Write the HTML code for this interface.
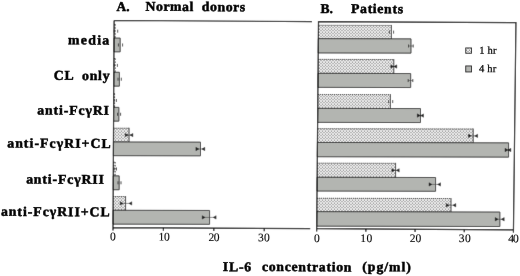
<!DOCTYPE html>
<html><head><meta charset="utf-8"><style>
html,body{margin:0;padding:0;background:#fff;width:520px;height:276px;overflow:hidden}
svg{display:block}
text{font-family:"Liberation Serif",serif;fill:#000;white-space:pre}
.tk{font-size:11.5px;stroke:#000;stroke-width:0.12px}
.lg{font-size:10.5px;stroke:#000;stroke-width:0.25px}
.lb{font-size:13.5px;font-weight:bold;stroke:#000;stroke-width:0.5px}
.tt{font-size:13.5px;font-weight:bold;stroke:#000;stroke-width:0.5px}
</style></head><body>
<svg width="520" height="276" viewBox="0 0 520 276">
<filter id="bl" x="0" y="0" width="1" height="1"><feConvolveMatrix order="3" kernelMatrix="0.0052 0.0619 0.0052 0.0619 0.7314 0.0619 0.0052 0.0619 0.0052" edgeMode="duplicate"/></filter>
<filter id="bt" x="0" y="0" width="520" height="276" filterUnits="userSpaceOnUse"><feConvolveMatrix order="3" kernelMatrix="0.0003 0.0158 0.0003 0.0158 0.9358 0.0158 0.0003 0.0158 0.0003" edgeMode="none"/></filter>
<g filter="url(#bl)"><rect width="520" height="276" fill="#fff"/>
<defs><pattern id="dots" width="2.1213" height="2.1213" patternUnits="userSpaceOnUse" patternTransform="rotate(45)"><rect width="2.1213" height="2.1213" fill="#fcfcfc"/><rect width="0.95" height="0.95" fill="#222"/></pattern></defs>
<path d="M114.08 24.3L115.2 24.3L115.2 38.05L114.01 38.05Z" fill="url(#dots)"/>
<path d="M114.08 24.3L115.2 24.3M114.01 38.05L115.2 38.05" fill="none" stroke="#2a2a2a" stroke-width="0.9" stroke-dasharray="1.2 0.8"/>
<path d="M115.2 24.3L115.2 38.05" fill="none" stroke="#2a2a2a" stroke-width="1" stroke-dasharray="1.3 1.7"/>
<path d="M114.2 29.67L114.2 32.67M117.7 29.68L117.7 32.68" stroke="#333" stroke-width="0.9" fill="none"/>
<path d="M114.01 38.05L120.2 38.06L120.2 51.86L113.94 51.85Z" fill="#b3b5b1" stroke="#2a2a2a" stroke-width="0.9"/>
<path d="M118.4 43.46L118.4 46.46M122.6 43.47L122.6 46.47" stroke="#333" stroke-width="0.9" fill="none"/>
<path d="M113.9 58.5L115.2 58.5L115.2 72.25L113.83 72.25Z" fill="url(#dots)"/>
<path d="M113.9 58.5L115.2 58.5M113.83 72.25L115.2 72.25" fill="none" stroke="#2a2a2a" stroke-width="0.9" stroke-dasharray="1.2 0.8"/>
<path d="M115.2 58.5L115.2 72.25" fill="none" stroke="#2a2a2a" stroke-width="1" stroke-dasharray="1.3 1.7"/>
<path d="M114.2 63.87L114.2 66.87M117.4 63.88L117.4 66.88" stroke="#333" stroke-width="0.9" fill="none"/>
<path d="M113.83 72.25L119.4 72.26L119.4 86.16L113.76 86.15Z" fill="#b3b5b1" stroke="#2a2a2a" stroke-width="0.9"/>
<path d="M118 77.71L118 80.71M121.3 77.71L121.3 80.71" stroke="#333" stroke-width="0.9" fill="none"/>
<path d="M113.72 93.6L114.6 93.6L114.6 107.35L113.64 107.35Z" fill="url(#dots)"/>
<path d="M113.72 93.6L114.6 93.6M113.64 107.35L114.6 107.35" fill="none" stroke="#2a2a2a" stroke-width="0.9" stroke-dasharray="1.2 0.8"/>
<path d="M114.6 93.6L114.6 107.35" fill="none" stroke="#2a2a2a" stroke-width="1" stroke-dasharray="1.3 1.7"/>
<path d="M114 98.97L114 101.97M116.4 98.98L116.4 101.98" stroke="#333" stroke-width="0.9" fill="none"/>
<path d="M113.64 107.35L118.9 107.36L118.9 121.16L113.57 121.15Z" fill="#b3b5b1" stroke="#2a2a2a" stroke-width="0.9"/>
<path d="M117.5 112.76L117.5 115.76M120.6 112.76L120.6 115.76" stroke="#333" stroke-width="0.9" fill="none"/>
<path d="M113.53 128.2L129.05 128.23L129.05 141.98L113.46 141.95Z" fill="url(#dots)"/>
<path d="M113.53 128.2L129.05 128.23M113.46 141.95L129.05 141.98" fill="none" stroke="#2a2a2a" stroke-width="0.9" stroke-dasharray="1.2 0.8"/>
<path d="M129.05 127.78L129.05 142.43" fill="none" stroke="#2a2a2a" stroke-width="0.9"/>
<path d="M125.5 135.1L132.6 135.11" stroke="#444" stroke-width="0.6" fill="none"/>
<path d="M125.2 133.4L125.2 136.8L128.1 135.1ZM132.9 133.41L132.9 136.81L130 135.1Z" fill="#111" stroke="#111" stroke-width="0.4" stroke-linejoin="round"/>
<path d="M113.46 141.95L200.5 142.12L200.5 155.87L113.39 155.7Z" fill="#b3b5b1" stroke="#2a2a2a" stroke-width="0.9"/>
<path d="M196.2 148.99L204.5 149" stroke="#444" stroke-width="0.6" fill="none"/>
<path d="M195.9 147.29L195.9 150.69L198.8 148.99ZM204.8 147.3L204.8 150.7L201.9 149Z" fill="#111" stroke="#111" stroke-width="0.4" stroke-linejoin="round"/>
<path d="M113.35 162.1L115.2 162.1L115.2 175.85L113.28 175.85Z" fill="url(#dots)"/>
<path d="M113.35 162.1L115.2 162.1M113.28 175.85L115.2 175.85" fill="none" stroke="#2a2a2a" stroke-width="0.9" stroke-dasharray="1.2 0.8"/>
<path d="M115.2 162.1L115.2 175.85" fill="none" stroke="#2a2a2a" stroke-width="1" stroke-dasharray="1.3 1.7"/>
<path d="M114.2 167.47L114.2 170.47M116.5 167.48L116.5 170.48" stroke="#333" stroke-width="0.9" fill="none"/>
<path d="M113.28 175.85L119.2 175.86L119.2 189.76L113.21 189.75Z" fill="#b3b5b1" stroke="#2a2a2a" stroke-width="0.9"/>
<path d="M118 181.31L118 184.31M121 181.31L121 184.31" stroke="#333" stroke-width="0.9" fill="none"/>
<path d="M113.17 196.5L125.6 196.52L125.6 210.27L113.1 210.25Z" fill="url(#dots)"/>
<path d="M113.17 196.5L125.6 196.52M113.1 210.25L125.6 210.27" fill="none" stroke="#2a2a2a" stroke-width="0.9" stroke-dasharray="1.2 0.8"/>
<path d="M125.6 196.07L125.6 210.72" fill="none" stroke="#2a2a2a" stroke-width="0.9"/>
<path d="M120.5 203.39L131.5 203.41" stroke="#444" stroke-width="0.6" fill="none"/>
<path d="M120.2 201.69L120.2 205.09L123.1 203.39ZM131.8 201.71L131.8 205.11L128.9 203.4Z" fill="#111" stroke="#111" stroke-width="0.4" stroke-linejoin="round"/>
<path d="M113.1 210.25L209.6 210.44L209.6 224.34L113.02 224.15Z" fill="#b3b5b1" stroke="#2a2a2a" stroke-width="0.9"/>
<path d="M202.5 217.38L215.8 217.4" stroke="#444" stroke-width="0.6" fill="none"/>
<path d="M202.2 215.67L202.2 219.07L205.1 217.38ZM216.1 215.7L216.1 219.1L213.2 217.4Z" fill="#111" stroke="#111" stroke-width="0.4" stroke-linejoin="round"/>
<path d="M318.47 25.27L391.4 25.41L391.4 38.81L318.35 38.67Z" fill="url(#dots)"/>
<path d="M318.47 25.27L391.4 25.41M318.35 38.67L391.4 38.81" fill="none" stroke="#2a2a2a" stroke-width="0.9" stroke-dasharray="1.2 0.8"/>
<path d="M391.4 24.96L391.4 39.26" fill="none" stroke="#2a2a2a" stroke-width="0.9"/>
<path d="M389.4 30.61L389.4 33.61M393.6 30.62L393.6 33.62" stroke="#333" stroke-width="0.9" fill="none"/>
<path d="M318.35 38.67L411 38.85L411 53.15L318.23 52.97Z" fill="#b3b5b1" stroke="#2a2a2a" stroke-width="0.9"/>
<path d="M408.5 46L413.2 46.01" stroke="#444" stroke-width="0.6" fill="none"/>
<path d="M408.5 44.5L408.5 47.5M413.2 44.51L413.2 47.51" stroke="#333" stroke-width="0.9" fill="none"/>
<path d="M318.17 59.37L393.8 59.52L393.8 73.52L318.05 73.37Z" fill="url(#dots)"/>
<path d="M318.17 59.37L393.8 59.52M318.05 73.37L393.8 73.52" fill="none" stroke="#2a2a2a" stroke-width="0.9" stroke-dasharray="1.2 0.8"/>
<path d="M393.8 59.07L393.8 73.97" fill="none" stroke="#2a2a2a" stroke-width="0.9"/>
<path d="M391.1 66.51L396.5 66.53" stroke="#444" stroke-width="0.6" fill="none"/>
<path d="M390.8 64.81L390.8 68.21L393.7 66.52ZM396.8 64.83L396.8 68.23L393.9 66.52Z" fill="#111" stroke="#111" stroke-width="0.4" stroke-linejoin="round"/>
<path d="M318.05 73.37L410.7 73.55L410.7 87.55L317.93 87.37Z" fill="#b3b5b1" stroke="#2a2a2a" stroke-width="0.9"/>
<path d="M408.2 80.55L412.8 80.56" stroke="#444" stroke-width="0.6" fill="none"/>
<path d="M408.2 79.05L408.2 82.05M412.8 79.06L412.8 82.06" stroke="#333" stroke-width="0.9" fill="none"/>
<path d="M317.87 94.47L390.4 94.61L390.4 108.51L317.74 108.37Z" fill="url(#dots)"/>
<path d="M317.87 94.47L390.4 94.61M317.74 108.37L390.4 108.51" fill="none" stroke="#2a2a2a" stroke-width="0.9" stroke-dasharray="1.2 0.8"/>
<path d="M390.4 94.16L390.4 108.96" fill="none" stroke="#2a2a2a" stroke-width="0.9"/>
<path d="M388.6 100.06L388.6 103.06M392.7 100.07L392.7 103.07" stroke="#333" stroke-width="0.9" fill="none"/>
<path d="M317.74 108.37L420.5 108.57L420.5 122.57L317.62 122.37Z" fill="#b3b5b1" stroke="#2a2a2a" stroke-width="0.9"/>
<path d="M417.6 115.57L423.2 115.58" stroke="#444" stroke-width="0.6" fill="none"/>
<path d="M417.3 113.87L417.3 117.27L420.2 115.57ZM423.5 113.88L423.5 117.28L420.6 115.57Z" fill="#111" stroke="#111" stroke-width="0.4" stroke-linejoin="round"/>
<path d="M317.57 128.67L473.2 128.98L473.2 142.78L317.45 142.47Z" fill="url(#dots)"/>
<path d="M317.57 128.67L473.2 128.98M317.45 142.47L473.2 142.78" fill="none" stroke="#2a2a2a" stroke-width="0.9" stroke-dasharray="1.2 0.8"/>
<path d="M473.2 128.53L473.2 143.23" fill="none" stroke="#2a2a2a" stroke-width="0.9"/>
<path d="M468.7 135.87L477.3 135.89" stroke="#444" stroke-width="0.6" fill="none"/>
<path d="M468.4 134.17L468.4 137.57L471.3 135.87ZM477.6 134.19L477.6 137.59L474.7 135.88Z" fill="#111" stroke="#111" stroke-width="0.4" stroke-linejoin="round"/>
<path d="M317.45 142.47L508.6 142.85L508.6 157.15L317.32 156.77Z" fill="#b3b5b1" stroke="#2a2a2a" stroke-width="0.9"/>
<path d="M505.3 149.99L510.6 150" stroke="#444" stroke-width="0.6" fill="none"/>
<path d="M505 148.29L505 151.69L507.9 150ZM510.9 148.3L510.9 151.7L508 150Z" fill="#111" stroke="#111" stroke-width="0.4" stroke-linejoin="round"/>
<path d="M317.27 163.17L395.6 163.32L395.6 177.42L317.14 177.27Z" fill="url(#dots)"/>
<path d="M317.27 163.17L395.6 163.32M317.14 177.27L395.6 177.42" fill="none" stroke="#2a2a2a" stroke-width="0.9" stroke-dasharray="1.2 0.8"/>
<path d="M395.6 162.87L395.6 177.87" fill="none" stroke="#2a2a2a" stroke-width="0.9"/>
<path d="M392.2 170.37L398.9 170.38" stroke="#444" stroke-width="0.6" fill="none"/>
<path d="M391.9 168.67L391.9 172.07L394.8 170.37ZM399.2 168.68L399.2 172.08L396.3 170.37Z" fill="#111" stroke="#111" stroke-width="0.4" stroke-linejoin="round"/>
<path d="M317.14 177.27L435.6 177.5L435.6 191.3L317.02 191.07Z" fill="#b3b5b1" stroke="#2a2a2a" stroke-width="0.9"/>
<path d="M429.3 184.39L440.2 184.41" stroke="#444" stroke-width="0.6" fill="none"/>
<path d="M429 182.69L429 186.09L431.9 184.4ZM440.5 182.71L440.5 186.11L437.6 184.41Z" fill="#111" stroke="#111" stroke-width="0.4" stroke-linejoin="round"/>
<path d="M316.96 198.27L451 198.53L451 211.93L316.85 211.67Z" fill="url(#dots)"/>
<path d="M316.96 198.27L451 198.53M316.85 211.67L451 211.93" fill="none" stroke="#2a2a2a" stroke-width="0.9" stroke-dasharray="1.2 0.8"/>
<path d="M451 198.08L451 212.38" fill="none" stroke="#2a2a2a" stroke-width="0.9"/>
<path d="M446.5 205.22L455.5 205.24" stroke="#444" stroke-width="0.6" fill="none"/>
<path d="M446.2 203.52L446.2 206.92L449.1 205.23ZM455.8 203.54L455.8 206.94L452.9 205.24Z" fill="#111" stroke="#111" stroke-width="0.4" stroke-linejoin="round"/>
<path d="M316.85 211.67L499.9 212.03L499.9 226.53L316.72 226.17Z" fill="#b3b5b1" stroke="#2a2a2a" stroke-width="0.9"/>
<path d="M495.5 219.27L503.9 219.29" stroke="#444" stroke-width="0.6" fill="none"/>
<path d="M495.2 217.57L495.2 220.97L498.1 219.28ZM504.2 217.59L504.2 220.99L501.3 219.28Z" fill="#111" stroke="#111" stroke-width="0.4" stroke-linejoin="round"/>
<path d="M114.1 20.48L311.99 21.58M114.1 20.48L112.99 230.38M113 227.58L310.21 228.68" stroke="#000" stroke-width="1.2" fill="none"/>
<path d="M163.41 227.86L163.4 230.66M213.83 228.14L213.81 230.94M264.24 228.43L264.22 231.23" stroke="#000" stroke-width="1.2"/>
<path d="M318.5 21.62L515.94 22.72L513.46 229.82L316.7 228.72Z" fill="none" stroke="#000" stroke-width="1.2"/>
<path d="M316.7 228.72L316.67 231.52M365.89 229L365.86 231.8M415.08 229.27L415.05 232.07M464.27 229.55L464.24 232.35M513.46 229.82L513.42 232.62" stroke="#000" stroke-width="1.2"/>
</g><g filter="url(#bt)">
<g transform="rotate(0.32 88.6 44.4)"><g transform="scale(1.020 1)"><text x="66.66" y="44.40" class="lb" textLength="40.37" lengthAdjust="spacing">media</text></g></g>
<g transform="rotate(0.32 81.7 79.9)"><g transform="scale(1.020 1)"><text x="52.75" y="79.90" class="lb" textLength="54.63" lengthAdjust="spacing">CL  only</text></g></g>
<g transform="rotate(0.32 73.1 114.7)"><g transform="scale(1.020 1)"><text x="36.41" y="114.70" class="lb" textLength="70.43" lengthAdjust="spacing">anti-FcγRI</text></g></g>
<g transform="rotate(0.32 58.9 147.7)"><g transform="scale(1.020 1)"><text x="7.12" y="147.70" class="lb" textLength="101.33" lengthAdjust="spacing">anti-FcγRI+CL</text></g></g>
<g transform="rotate(0.32 65.0 183.7)"><g transform="scale(1.020 1)"><text x="25.62" y="183.70" class="lb" textLength="76.12" lengthAdjust="spacing">anti-FcγRII</text></g></g>
<g transform="rotate(0.32 55.2 216.1)"><g transform="scale(1.020 1)"><text x="0.87" y="216.10" class="lb" textLength="106.60" lengthAdjust="spacing">anti-FcγRII+CL</text></g></g>
<g transform="rotate(0.32 123.5 11.0)"><text x="116.56" y="11.00" class="tt">A.</text></g>
<g transform="rotate(0.32 195.3 11.0)"><g transform="scale(1.020 1)"><text x="142.65" y="11.00" class="tt" textLength="97.69" lengthAdjust="spacing">Normal  donors</text></g></g>
<g transform="rotate(0.32 326.0 13.1)"><text x="320.39" y="13.10" class="tt">B.</text></g>
<g transform="rotate(0.32 377.0 13.1)"><g transform="scale(1.020 1)"><text x="344.17" y="13.10" class="tt" textLength="50.97" lengthAdjust="spacing">Patients</text></g></g>
<g transform="rotate(0.32 237.0 271.2)"><g transform="scale(1.020 1)"><text x="218.50" y="271.20" class="tt" textLength="27.79" lengthAdjust="spacing">IL-6</text></g></g>
<g transform="rotate(0.32 306.7 271.2)"><g transform="scale(1.020 1)"><text x="256.78" y="271.20" class="tt" textLength="87.84" lengthAdjust="spacing">concentration</text></g></g>
<g transform="rotate(0.32 386.5 271.2)"><g transform="scale(1.020 1)"><text x="355.15" y="271.20" class="tt" textLength="47.64" lengthAdjust="spacing">(pg/ml)</text></g></g>
<g transform="rotate(0.32 487.8 53.7)"><text x="479.22" y="53.70" class="lg" textLength="17.19" lengthAdjust="spacing">1 hr</text></g>
<g transform="rotate(0.32 487.6 72.1)"><text x="478.89" y="72.10" class="lg" textLength="17.34" lengthAdjust="spacing">4 hr</text></g>
<g transform="rotate(0.32 112.5 240.2)"><text x="109.91" y="240.20" class="tk">0</text></g>
<g transform="rotate(0.32 164.2 240.6)"><text x="158.55" y="240.60" class="tk" textLength="11.22" lengthAdjust="spacing">10</text></g>
<g transform="rotate(0.32 213.9 241.1)"><text x="208.39" y="241.10" class="tk" textLength="11.10" lengthAdjust="spacing">20</text></g>
<g transform="rotate(0.32 263.9 241.2)"><text x="258.02" y="241.20" class="tk" textLength="11.70" lengthAdjust="spacing">30</text></g>
<g transform="rotate(0.32 316.7 241.9)"><text x="314.02" y="241.90" class="tk">0</text></g>
<g transform="rotate(0.32 366.2 242.1)"><text x="360.36" y="242.10" class="tk" textLength="11.77" lengthAdjust="spacing">10</text></g>
<g transform="rotate(0.32 415.5 242.1)"><text x="409.81" y="242.10" class="tk" textLength="11.37" lengthAdjust="spacing">20</text></g>
<g transform="rotate(0.32 464.7 242.1)"><text x="458.66" y="242.10" class="tk" textLength="12.00" lengthAdjust="spacing">30</text></g>
<g transform="rotate(0.32 513.5 242.2)"><text x="508.20" y="242.20" class="tk" textLength="10.54" lengthAdjust="spacing">40</text></g>
<rect x="465.75" y="47.95" width="5.7" height="5.3" fill="url(#dots)" stroke="#2a2a2a" stroke-width="0.9"/>
<rect x="465.75" y="65.95" width="5.7" height="6" fill="#b3b5b1" stroke="#2a2a2a" stroke-width="0.9"/>
</g>
</svg>
</body></html>
